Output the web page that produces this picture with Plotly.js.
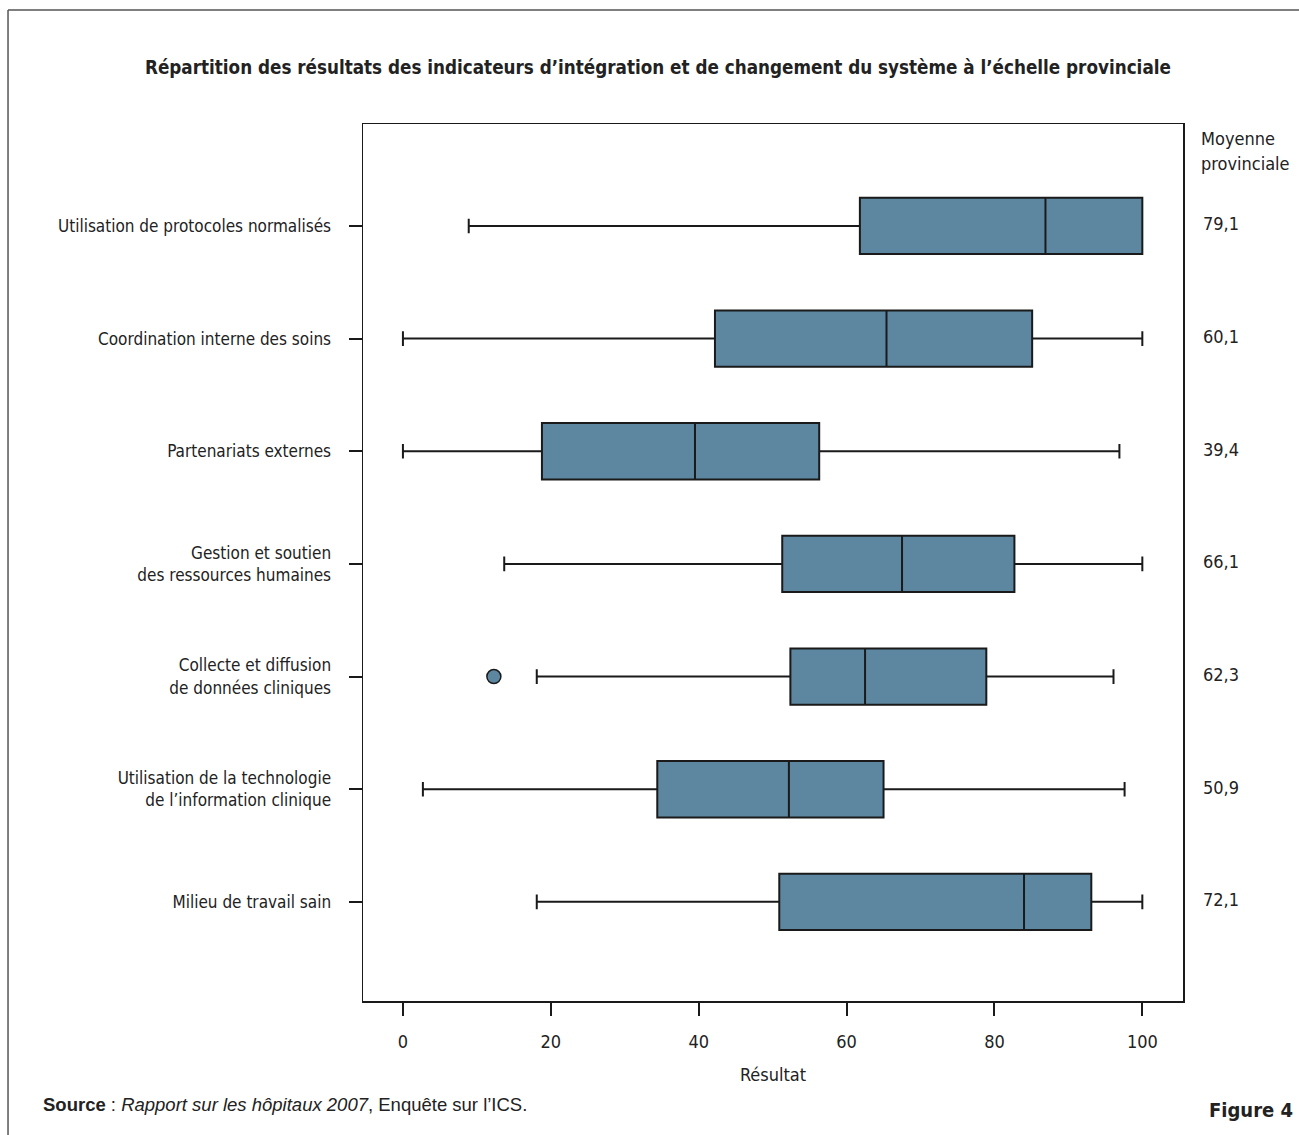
<!DOCTYPE html>
<html>
<head>
<meta charset="utf-8">
<script src="https://cdn.plot.ly/plotly-3.0.1.min.js"></script>
<style>
html,body{margin:0;padding:0;background:#fff;}
#chart{width:1299px;height:1135px;}
</style>
</head>
<body>
<div id="chart"></div>
<script>
const categories = [
  "Utilisation de protocoles normalisés",
  "Coordination interne des soins",
  "Partenariats externes",
  "Gestion et soutien<br>des ressources humaines",
  "Collecte et diffusion<br>de données cliniques",
  "Utilisation de la technologie<br>de l’information clinique",
  "Milieu de travail sain"
];
const lowerWhisker = [8.9, 0, 0, 13.7, 18.1, 2.7, 18.1];
const q1Values     = [61.8, 42.2, 18.8, 51.3, 52.4, 34.4, 50.9];
const medianValues = [86.9, 65.4, 39.5, 67.5, 62.5, 52.2, 84.0];
const q3Values     = [100, 85.1, 56.3, 82.7, 78.9, 65.0, 93.1];
const upperWhisker = [100, 100, 96.9, 100, 96.1, 97.6, 100];
const outlierX = [12.3];
const outlierCategory = ["Collecte et diffusion<br>de données cliniques"];
const provincialMeans = ["79,1", "60,1", "39,4", "66,1", "62,3", "50,9", "72,1"];
const meanHeaderLines = ["Moyenne", "provinciale"];
const xTicks = [0, 20, 40, 60, 80, 100];

const narrow = "DejaVu Sans Condensed, Liberation Sans Narrow, Arial Narrow, sans-serif";
const fillColor = "#5d87a1";
const lineColor = "#1a1a1a";
const textColor = "#222";

const traces = [
  {
    type: "box",
    orientation: "h",
    y: categories,
    q1: q1Values,
    median: medianValues,
    q3: q3Values,
    lowerfence: lowerWhisker,
    upperfence: upperWhisker,
    width: 0.5,
    whiskerwidth: 0.26,
    fillcolor: fillColor,
    line: {color: lineColor, width: 2},
    boxpoints: false,
    hoverinfo: "skip",
    showlegend: false
  },
  {
    type: "scatter",
    mode: "markers",
    x: outlierX,
    y: outlierCategory,
    marker: {size: 14, color: fillColor, line: {color: lineColor, width: 1.5}},
    hoverinfo: "skip",
    showlegend: false
  }
];

const annotations = [];
const headerY = [(1001 - 138) / 877, (1001 - 164) / 877];
meanHeaderLines.forEach((t, i) => {
  annotations.push({
    xref: "paper", yref: "paper", x: 1.0195, y: headerY[i], xanchor: "left", yanchor: "middle",
    text: t, showarrow: false, align: "left",
    font: {family: narrow, size: 18, color: textColor}
  });
});
categories.forEach((c, i) => {
  annotations.push({
    xref: "paper", yref: "y", x: 1.022, y: c, xanchor: "left", yanchor: "middle",
    yshift: 2,
    text: provincialMeans[i], showarrow: false,
    font: {family: narrow, size: 18, color: textColor}
  });
});
annotations.push({
  xref: "paper", yref: "paper", x: -0.393, y: -0.104, xanchor: "left", yanchor: "top",
  text: "<b>Source</b> : <i>Rapport sur les hôpitaux 2007</i>, Enquête sur l’ICS.",
  showarrow: false, align: "left",
  font: {family: "Liberation Sans, Arial, sans-serif", size: 18.5, color: textColor}
});
annotations.push({
  xref: "paper", yref: "paper", x: 1.1366, y: -0.108, xanchor: "right", yanchor: "top",
  text: "<b>Figure 4</b>", showarrow: false,
  font: {family: narrow, size: 20, color: textColor}
});

const layout = {
  width: 1299,
  height: 1135,
  margin: {l: 363, r: 116, t: 124, b: 134},
  paper_bgcolor: "#fff",
  plot_bgcolor: "#fff",
  title: {
    text: "<b>Répartition des résultats des indicateurs d’intégration et de changement du système à l’échelle provinciale</b>",
    x: 0.5065, xanchor: "center", y: 0.941, yanchor: "middle",
    font: {family: narrow, size: 18.7, color: textColor}
  },
  xaxis: {
    range: [-5.4, 105.5],
    tickvals: xTicks,
    ticktext: xTicks.map(String),
    ticks: "outside", ticklen: 13, tickwidth: 2, tickcolor: lineColor,
    showline: true, linecolor: lineColor, linewidth: 1.5, mirror: true,
    showgrid: false, zeroline: false,
    ticklabelstandoff: 11,
    tickfont: {family: narrow, size: 18, color: textColor},
    title: {text: "Résultat", font: {family: narrow, size: 18, color: textColor}, standoff: 17}
  },
  yaxis: {
    type: "category",
    categoryorder: "array",
    categoryarray: categories,
    range: [6.88, -0.905],
    ticks: "outside", ticklen: 13, tickwidth: 2, tickcolor: lineColor,
    showline: true, linecolor: lineColor, linewidth: 1.5, mirror: true,
    showgrid: false, zeroline: false,
    ticklabelstandoff: 14,
    tickfont: {family: narrow, size: 17, color: textColor}
  },
  shapes: [
    {type: "line", xref: "paper", yref: "paper", x0: -0.4329, x1: 1.2, y0: 1.130, y1: 1.130,
     line: {color: "#555", width: 1.5}},
    {type: "line", xref: "paper", yref: "paper", x0: -0.4329, x1: -0.4329, y0: 1.130, y1: -0.2,
     line: {color: "#555", width: 1.5}}
  ],
  annotations: annotations
};

Plotly.newPlot("chart", traces, layout, {displayModeBar: false, staticPlot: true});
</script>
</body>
</html>
